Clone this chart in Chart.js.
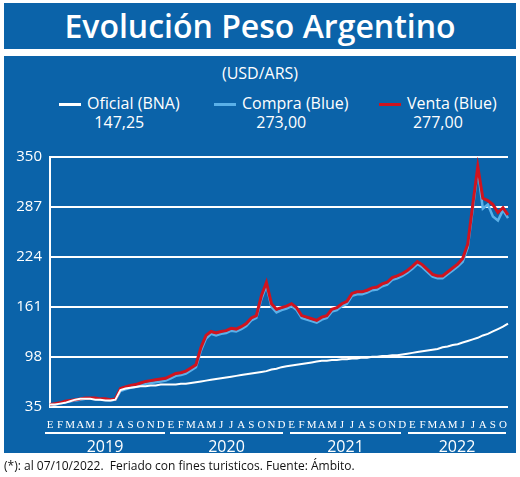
<!DOCTYPE html>
<html><head><meta charset="utf-8">
<script src="https://cdn.jsdelivr.net/npm/chart.js@4"></script>
<style>
body{margin:0;width:520px;height:477px;background:#fff;font-family:"Open Sans",sans-serif;position:relative;overflow:hidden}
#titulo{position:absolute;left:4px;top:3px;width:512px;height:46px;background:#0b63a9;color:#fff;font-size:32px;font-weight:600;text-align:center;line-height:46px}
#caja{position:absolute;left:4px;top:56px;width:512px;height:397px;background:#0b63a9;color:#fff}
#sub{position:absolute;top:6px;width:100%;text-align:center;font-size:16px}
.ley{position:absolute;top:38px;font-size:16px;text-align:center;line-height:19px}
.ley i{display:inline-block;width:22px;height:3px;vertical-align:middle;margin-right:6px}
#wrap{position:absolute;left:0;top:84px;width:512px;height:296px}
.anio{position:absolute;top:376px;font-size:16px;text-align:center;border-top:2px solid #fff;padding-top:1px}
#nota{position:absolute;left:4px;top:457px;font-size:12px;color:#111}
</style></head><body>
<div id="titulo">Evolución Peso Argentino</div>
<div id="caja">
  <div id="sub">(USD/ARS)</div>
  <div class="ley" style="left:55px"><i style="background:#fff"></i>Oficial (BNA)<br>147,25</div>
  <div class="ley" style="left:210px"><i style="background:#5ab0e8"></i>Compra (Blue)<br>273,00</div>
  <div class="ley" style="left:375px"><i style="background:#d0131e"></i>Venta (Blue)<br>277,00</div>
  <div id="wrap"><canvas id="grafico"></canvas></div>
  <div class="anio" style="left:41px;width:120px">2019</div>
  <div class="anio" style="left:166px;width:113px">2020</div>
  <div class="anio" style="left:286px;width:111px">2021</div>
  <div class="anio" style="left:404px;width:98px">2022</div>
</div>
<div id="nota">(*): al 07/10/2022.&nbsp; Feriado con fines turisticos. Fuente: Ámbito.</div>
<script>
const meses = ["E","F","M","A","M","J","J","A","S","O","N","D"];
const ticksY = [35, 98, 161, 224, 287, 350];

// dos puntos por mes, ene 2019 - oct 2022
const venta = [38,39, 40,42, 43,44, 45,46, 46,46, 45,45, 44,45, 58,60, 62,63, 65,67, 68,69, 70,71,
  74,77, 78,80, 84,88, 110,125, 130,128, 130,131, 134,133, 136,140, 147,150, 175,192, 165,158, 160,162,
  165,160, 150,148, 146,144, 148,150, 158,160, 165,168, 178,180, 180,182, 185,186, 190,192, 198,200, 203,207,
  212,218, 214,208, 202,200, 200,205, 210,215, 222,240, 290,338, 298,295, 290,280, 286,277];
const compra = [37,38, 39,41, 42,43, 44,45, 45,45, 44,44, 43,44, 55,57, 59,60, 62,64, 65,66, 67,68,
  71,74, 75,77, 81,85, 106,121, 127,125, 127,128, 131,130, 133,137, 144,147, 171,188, 161,154, 157,159,
  162,157, 147,145, 143,141, 145,147, 155,157, 162,165, 175,177, 177,179, 182,183, 187,189, 195,197, 200,204,
  209,215, 211,205, 199,197, 197,202, 207,212, 218,236, 285,334, 285,290, 275,270, 283,273];
const oficial = [38,38, 39,40, 42,44, 45,45, 45,44, 44,43, 43,44, 56,58, 59,60, 61,61, 62,62, 63,63,
  63,63, 64,64, 65,66, 67,68, 69,70, 71,72, 73,74, 75,76, 77,78, 79,80, 82,83, 85,86, 87,88,
  89,90, 91,92, 93,93, 94,94, 95,95, 96,96, 97,97, 98,98, 99,99, 100,100, 101,102, 103,104,
  105,106, 107,108, 110,111, 113,114, 116,118, 120,122, 125,127, 130,133, 136,140, 144,147];

const etiquetas = venta.map((v, i) => i % 2 === 0 ? meses[(i / 2) % 12] : "");

const lin = (d, c, w) => ({data: d, borderColor: c, borderWidth: w, pointRadius: 0, tension: 0, fill: false});

new Chart(document.getElementById("grafico"), {
  type: "line",
  data: {
    labels: etiquetas,
    datasets: [lin(oficial, "#ffffff", 2), lin(venta, "#d0131e", 3), lin(compra, "#5ab0e8", 2.5)]
  },
  options: {
    responsive: true, maintainAspectRatio: false, animation: false,
    layout: {padding: {right: 8, top: 6}},
    plugins: {legend: {display: false}, tooltip: {enabled: false}},
    scales: {
      y: {
        min: 35, max: 350, afterBuildTicks: ax => { ax.ticks = ticksY.map(v => ({value: v})); },
        afterFit: ax => { ax.width = 46; },
        grid: {color: "#ffffff", lineWidth: 2, drawTicks: false},
        border: {display: true, color: "#ffffff", width: 2},
        ticks: {color: "#fff", font: {size: 15, family: "Open Sans"}, padding: 8}
      },
      x: {
        grid: {display: false},
        border: {display: false},
        ticks: {color: "#fff", autoSkip: false, maxRotation: 0, font: {size: 11, family: "Liberation Sans Narrow"}, padding: 4}
      }
    }
  }
});
</script>
</body></html>
